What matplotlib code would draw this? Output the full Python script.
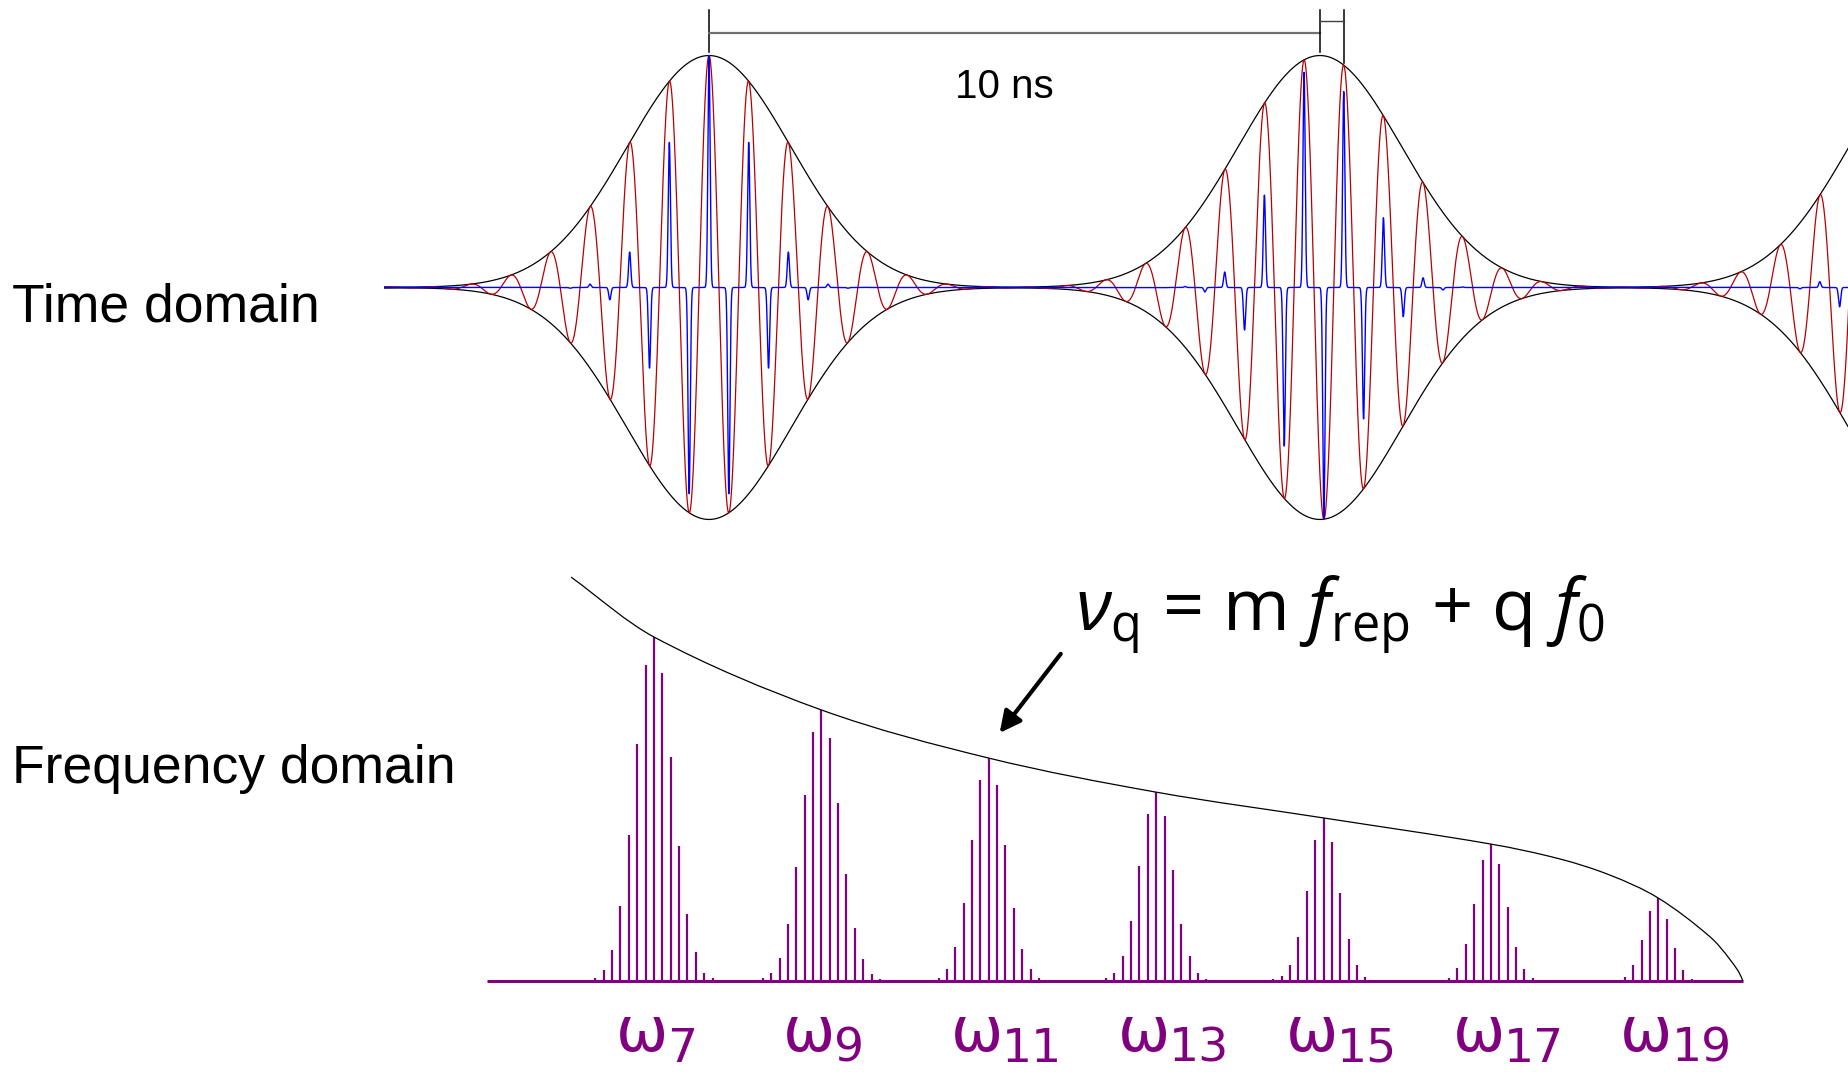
import numpy as np
import matplotlib
matplotlib.use("Agg")
import matplotlib.pyplot as plt
from matplotlib.path import Path
from matplotlib.patches import PathPatch
from matplotlib.transforms import offset_copy

# --- time domain: pulse train (ns) ---
pulse_centers = [-10.0, 0.0, 10.0, 20.0]
rep_period = 10.0            # ns, the "10 ns" bracket
carrier_cycles = 15.4        # carrier cycles per repetition period
envelope_sigma = 1.34        # ns
spike_sigma = 0.67           # ns, envelope of the blue spikes
spike_width = 0.018          # ns

# --- frequency domain: harmonic groups ---
harmonics = [7, 9, 11, 13, 15, 17, 19]
peak_heights = [1.0, 0.788, 0.648, 0.549, 0.474, 0.398, 0.241]
line_spacing = 0.1           # comb spacing in harmonic-order units
profiles = [
    [0.003, 0.01, 0.031, 0.09, 0.217, 0.425, 0.69, 0.918, 1.0, 0.894, 0.652, 0.391, 0.195, 0.084, 0.024, 0.008, 0.003],
    [0.01, 0.031, 0.086, 0.209, 0.419, 0.686, 0.917, 1.0, 0.895, 0.655, 0.394, 0.197, 0.08, 0.027, 0.009],
    [0.015, 0.055, 0.153, 0.352, 0.632, 0.9, 1.0, 0.88, 0.611, 0.329, 0.142, 0.052, 0.015],
    [0.014, 0.044, 0.13, 0.32, 0.61, 0.886, 1.0, 0.875, 0.59, 0.30, 0.13, 0.04, 0.01],
    [0.01, 0.03, 0.10, 0.27, 0.555, 0.867, 1.0, 0.85, 0.54, 0.255, 0.096, 0.027, 0.008],
    [0.024, 0.093, 0.268, 0.56, 0.883, 1.0, 0.854, 0.537, 0.25, 0.09, 0.024],
    [0.05, 0.19, 0.49, 0.85, 1.0, 0.75, 0.40, 0.13, 0.03],
]
# black envelope curve over the comb
env_x = [6.01, 7, 9, 11, 13, 15, 17, 17.82, 18.42, 19, 19.62, 19.86, 20.01]
env_y = [1.174, 1.0, 0.788, 0.648, 0.549, 0.474, 0.398, 0.355, 0.308, 0.241, 0.128, 0.061, 0.0]

PURPLE = "#800080"
W, H = 1849, 1072
fig = plt.figure(figsize=(W / 100, H / 100), dpi=100)


def px_axes(left, top, width, height):
    ax = fig.add_axes([left / W, 1 - (top + height) / H, width / W, height / H])
    ax.axis("off")
    return ax


# ---------------- time domain ----------------
ax_t = px_axes(384, 4.5, 1465, 566)
ax_t.set_xlim(-5.32, 18.66)
ax_t.set_ylim(-1.22, 1.22)

t = np.linspace(-5.32, 18.66, 24000)
f_c = carrier_cycles / rep_period
env = sum(np.exp(-(t - c) ** 2 / (2 * envelope_sigma ** 2)) for c in pulse_centers)
red = env * np.cos(2 * np.pi * f_c * t)

k = np.arange(int(np.floor(-6 * 2 * f_c)), int(np.ceil(19 * 2 * f_c)) + 1)
t_k = k / (2 * f_c)
a_k = sum(np.exp(-(t_k - c) ** 2 / (2 * spike_sigma ** 2)) for c in pulse_centers)
a_k = a_k * np.where(k % 2 == 0, 1.0, -1.0)
blue = (a_k[:, None] * np.exp(-(t[None, :] - t_k[:, None]) ** 2 / (2 * spike_width ** 2))).sum(axis=0)

ax_t.plot(t, env, color="black", lw=0.9, zorder=1)
ax_t.plot(t, -env, color="black", lw=0.9, zorder=1)
ax_t.plot(t, red, color="#b80000", lw=0.9, zorder=2)
ax_t.plot(t, blue, color="#0000ff", lw=1.0, zorder=3)

# 10 ns bracket
t_peak2 = rep_period + 0.6 / f_c
ax_t.plot([0, 0], [1.017, 1.198], color="black", lw=1.1, clip_on=False)
ax_t.plot([0, rep_period], [1.095, 1.095], color="#707070", lw=1.6, clip_on=False)
ax_t.plot([rep_period, rep_period], [1.017, 1.198], color="black", lw=1.1, clip_on=False)
ax_t.plot([t_peak2, t_peak2], [0.966, 1.198], color="black", lw=1.1, clip_on=False)
ax_t.plot([rep_period, t_peak2], [1.147, 1.147], color="#404040", lw=1.0, clip_on=False)
ax_t.text(4.83, 0.815, "10 ns", ha="center", va="baseline", fontsize=29,
          family="Liberation Sans")

# ---------------- frequency domain ----------------
ax_f = px_axes(478.2, 551, 1272.2, 447.2)
ax_f.set_xlim(4.9, 20.1)
ax_f.set_ylim(-0.05, 1.25)

ax_f.plot([5.0, 20.01], [0, 0], color=PURPLE, lw=2.2, solid_capstyle="butt", zorder=2)
for n, peak, prof in zip(harmonics, peak_heights, profiles):
    prof = np.array(prof)
    c = len(prof) // 2
    xs = n + line_spacing * (np.arange(len(prof)) - c)
    ax_f.vlines(xs, 0, peak * prof, color=PURPLE, lw=1.6, zorder=3)

# smooth envelope through the read points (cubic Bezier segments)
ex, ey = np.array(env_x), np.array(env_y)
m = np.empty_like(ex)
m[1:-1] = (ey[2:] - ey[:-2]) / (ex[2:] - ex[:-2])
m[0] = (ey[1] - ey[0]) / (ex[1] - ex[0])
m[-1] = 1.6 * (ey[-1] - ey[-2]) / (ex[-1] - ex[-2])
verts = [(ex[0], ey[0])]
codes = [Path.MOVETO]
for i in range(len(ex) - 1):
    dx = ex[i + 1] - ex[i]
    verts += [(ex[i] + dx / 3, ey[i] + m[i] * dx / 3),
              (ex[i + 1] - dx / 3, ey[i + 1] - m[i + 1] * dx / 3),
              (ex[i + 1], ey[i + 1])]
    codes += [Path.CURVE4] * 3
ax_f.add_patch(PathPatch(Path(verts, codes), fill=False, edgecolor="black", lw=0.9, zorder=4))

ax_f.annotate("", xy=(11.13, 0.721), xytext=(11.86, 0.951),
              arrowprops=dict(arrowstyle="-|>", color="black", lw=3, mutation_scale=32,
                              shrinkA=0, shrinkB=0))

for n in harmonics:
    tr_w = offset_copy(ax_f.transData, fig=fig, x=-12, y=-70, units="dots")
    tr_n = offset_copy(ax_f.transData, fig=fig, x=13, y=-81, units="dots")
    ax_f.text(n, 0, "\u03c9", transform=tr_w, ha="center", va="baseline",
              fontsize=45, color=PURPLE, family="DejaVu Sans")
    ax_f.text(n, 0, str(n), transform=tr_n, ha="left", va="baseline",
              fontsize=34, color=PURPLE, family="DejaVu Sans")

# ---------------- labels ----------------
plt.rcParams["mathtext.fontset"] = "custom"
plt.rcParams["mathtext.rm"] = "Open Sans"
plt.rcParams["mathtext.it"] = "Open Sans:italic"
fig.text(1075 / W, 1 - 631 / H,
         r"$\nu_{\mathrm{q}}$ = m $f_{\mathrm{rep}}$ + q $f_{0}$",
         ha="left", va="baseline", fontsize=52, family="Open Sans")

fig.text(12 / W, 1 - 321 / H, "Time domain", ha="left", va="baseline",
         fontsize=38.5, family="Liberation Sans")
fig.text(12 / W, 1 - 783 / H, "Frequency domain", ha="left", va="baseline",
         fontsize=38.5, family="Liberation Sans")

fig.savefig("out.png", dpi=100, facecolor="white")
